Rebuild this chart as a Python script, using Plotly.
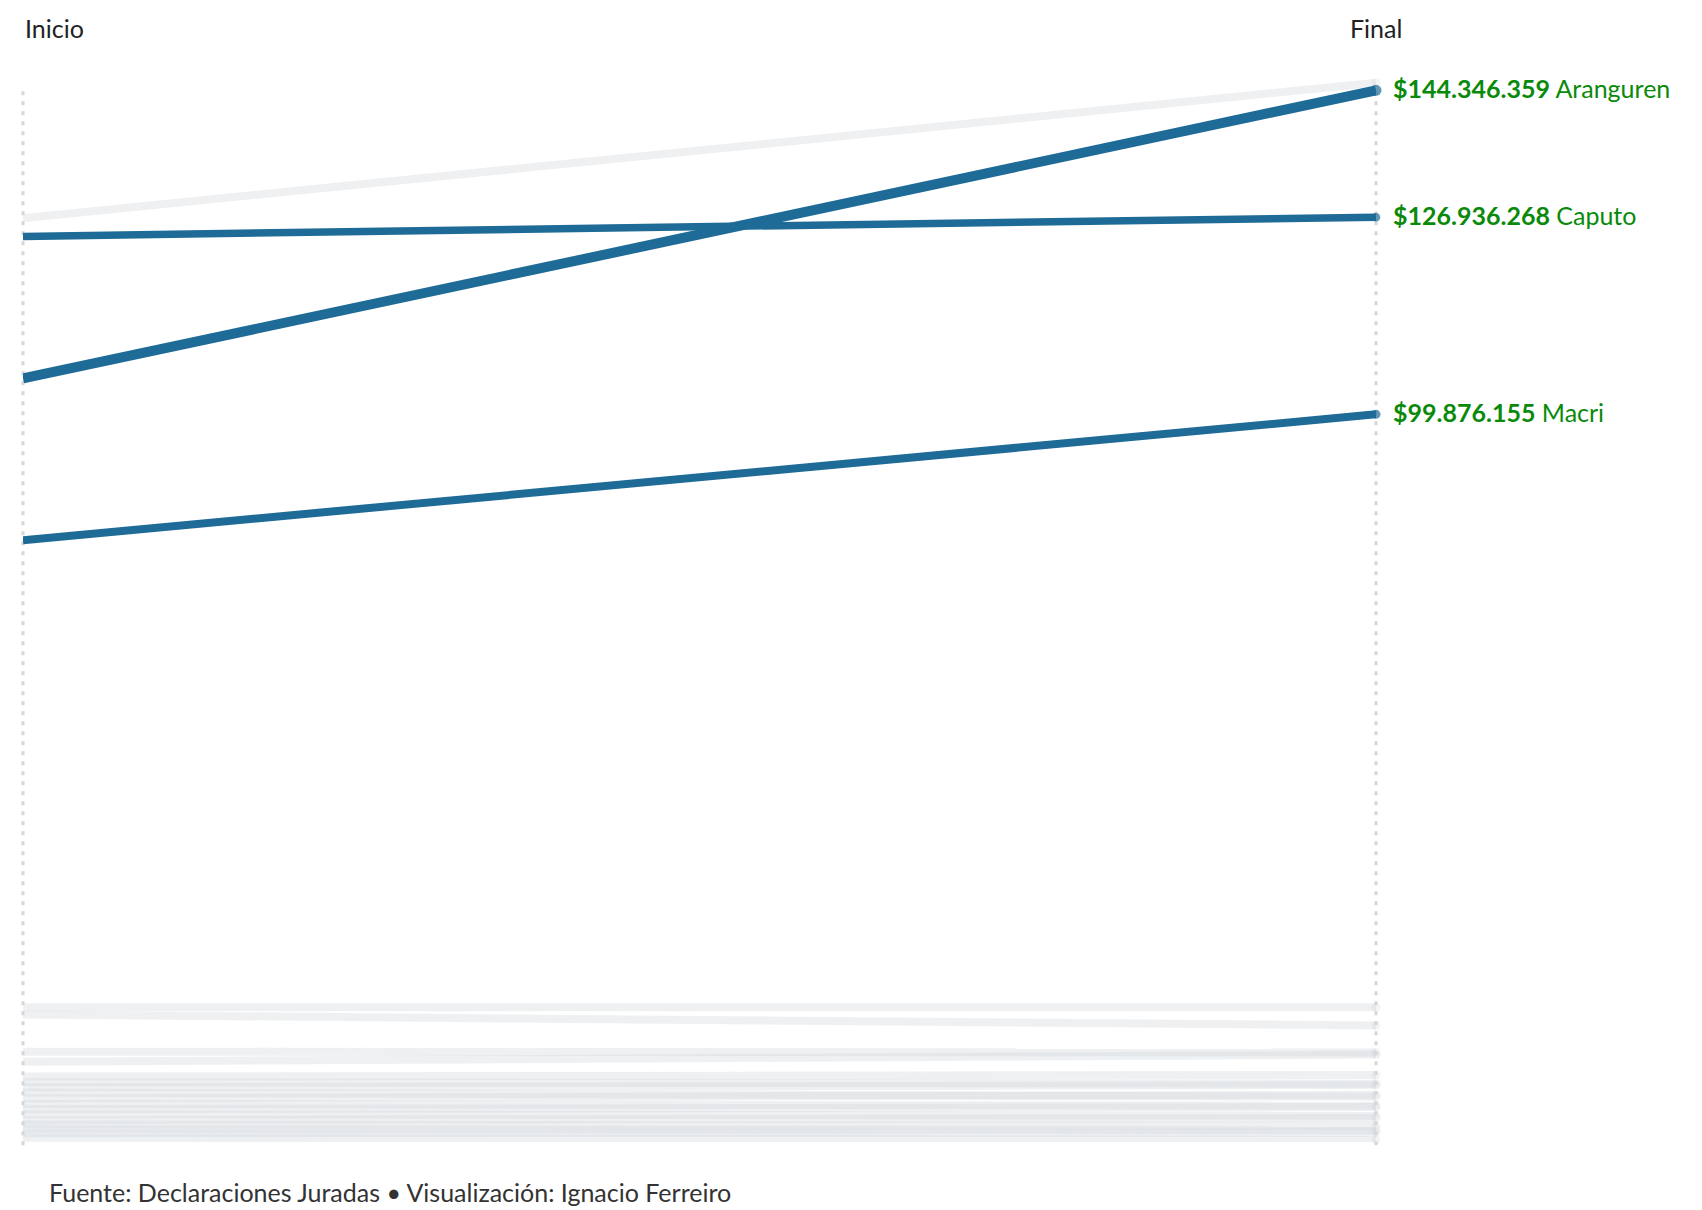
import plotly.graph_objects as go

# ---------------- data ----------------
categories = ["Inicio", "Final"]

names = ["Aranguren", "Caputo", "Macri"]
inicio = [104_800_000, 124_300_000, 82_600_000]
final = [144_346_359, 126_936_268, 99_876_155]
labels = ["$144.346.359", "$126.936.268", "$99.876.155"]

gray_inicio = [126_800_000, 18_500_000, 17_500_000, 12_400_000, 11_000_000,
               9_000_000, 8_200_000, 7_500_000, 6_800_000, 6_000_000, 5_200_000,
               4_500_000, 3_800_000, 3_000_000, 2_400_000, 1_800_000, 1_200_000, 600_000]
gray_final = [145_400_000, 18_500_000, 16_000_000, 12_300_000, 12_000_000,
              9_200_000, 8_000_000, 7_800_000, 6_200_000, 6_500_000, 5_000_000,
              4_800_000, 3_600_000, 3_300_000, 2_200_000, 1_600_000, 1_300_000, 300_000]

footer = "Fuente: Declaraciones Juradas • Visualización: Ignacio Ferreiro"

# ---------------- styles ----------------
FONT = "Source Sans Pro, Lato, sans-serif"
BLUE = "#1f6b97"
GREEN = "#0a8a0a"
GRAY = "rgba(212,217,222,0.40)"
blue_widths = [10, 7.5, 8]

xs = [0, 1]
fig = go.Figure()

H_PX = 1082
y_top = H_PX * 137_254

# dotted vertical axes (paper-referenced so they are not clipped)
axis_top = 144_760_000
for x in xs:
    fig.add_shape(type="line", x0=x, x1=x, y0=-0.003, y1=axis_top / y_top,
                  xref="paper", yref="paper",
                  line=dict(color="#d6d6d6", width=3, dash="4px,6px"), layer="below")

for a, b in zip(gray_inicio, gray_final):
    fig.add_trace(go.Scatter(
        x=xs, y=[a, b], mode="lines+markers",
        line=dict(color=GRAY, width=8),
        marker=dict(size=[0, 9], color=GRAY, line=dict(width=0)),
        cliponaxis=False, hoverinfo="skip", showlegend=False))

for n, a, b, w in zip(names, inicio, final, blue_widths):
    fig.add_trace(go.Scatter(
        x=xs, y=[a, b], mode="lines+markers",
        line=dict(color=BLUE, width=w),
        marker=dict(size=[0, w + 1], color=BLUE, line=dict(width=0)),
        cliponaxis=False, name=n, showlegend=False))

# value labels at the right end
for n, b, lab in zip(names, final, labels):
    fig.add_annotation(x=1, y=b, xref="x", yref="y",
                       text=f"<b>{lab}</b> {n}", showarrow=False,
                       xanchor="left", yanchor="middle", xshift=15, yshift=2,
                       font=dict(family=FONT, size=25, color=GREEN))

# axis captions
fig.add_annotation(x=0, y=1, xref="x", yref="paper", text=categories[0],
                   showarrow=False, xanchor="left", yanchor="middle", yshift=32,
                   font=dict(family=FONT, size=25, color="#222"))
fig.add_annotation(x=1, y=1, xref="x", yref="paper", text=categories[1],
                   showarrow=False, xanchor="center", yanchor="middle", yshift=32,
                   font=dict(family=FONT, size=25, color="#222"))

fig.add_annotation(x=0, y=0, xref="paper", yref="paper", text=footer,
                   showarrow=False, xanchor="left", yanchor="middle",
                   xshift=24, yshift=-50,
                   font=dict(family=FONT, size=25, color="#333"))

fig.update_layout(
    width=1702, height=1210,
    margin=dict(l=23, r=326, t=60, b=68),
    plot_bgcolor="white", paper_bgcolor="white",
    xaxis=dict(range=[0, 1], visible=False, fixedrange=True),
    yaxis=dict(range=[0, y_top], visible=False, fixedrange=True),
    showlegend=False,
)

fig.write_html("out.html")
